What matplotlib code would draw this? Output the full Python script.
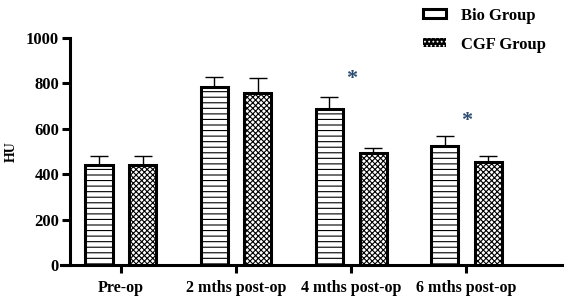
import matplotlib.pyplot as plt
from matplotlib.patches import Patch
import numpy as np

plt.rcParams['font.family'] = ['Liberation Serif', 'DejaVu Serif']
plt.rcParams['font.weight'] = 'bold'
plt.rcParams['hatch.linewidth'] = 0.8

# Data
groups = ["Pre-op", "2 mths post-op", "4 mths post-op", "6 mths post-op"]
bio_mean = [440, 782, 688, 524]
bio_err = [38, 48, 50, 45]
cgf_mean = [440, 758, 494, 454]
cgf_err = [38, 66, 22, 26]
star_groups = [2, 3]
star_heights = [818, 634]

fig = plt.figure(figsize=(5.65, 3.0), dpi=100)
ax = fig.add_axes([61 / 565, 35 / 300, (562 - 61) / 565, 227 / 300])

x = np.arange(len(groups))
off = 0.19
w = 0.235
ax.bar(x - off, bio_mean, w, color='white', edgecolor='black', linewidth=2.2,
       hatch='---', zorder=3)
ax.bar(x + off, cgf_mean, w, color='white', edgecolor='black', linewidth=2.2,
       hatch='xxxxxx', zorder=3)
ax.errorbar(x - off, bio_mean, yerr=[np.zeros(4), bio_err], fmt='none',
            ecolor='black', elinewidth=1.0, capsize=6.5, capthick=1.0, zorder=2)
ax.errorbar(x + off, cgf_mean, yerr=[np.zeros(4), cgf_err], fmt='none',
            ecolor='black', elinewidth=1.0, capsize=6.5, capthick=1.0, zorder=2)

for g, h in zip(star_groups, star_heights):
    ax.text(g, h, '*', ha='center', va='center', fontsize=16,
            color='#2b4a6f', fontweight='bold')

ax.set_xlim(-0.52, 3.83)
ax.set_ylim(0, 1000)
ax.set_yticks([0, 200, 400, 600, 800, 1000])
ax.set_xticks(x)
ax.set_xticklabels(groups)
ax.tick_params(axis='both', width=2.2, length=6)
ax.tick_params(axis='x', labelsize=11.5, pad=5)
ax.tick_params(axis='y', labelsize=12, pad=2)
ax.spines['top'].set_visible(False)
ax.spines['right'].set_visible(False)
ax.spines['left'].set_linewidth(2.2)
ax.spines['bottom'].set_linewidth(2.2)
ax.spines['left'].set_position(('data', -0.44))
ax.set_ylabel('HU', fontsize=10, fontweight='bold', labelpad=6)

handles = [Patch(facecolor='white', edgecolor='black', linewidth=2.2),
           Patch(facecolor='black', edgecolor='white', hatch='....', linewidth=0)]
fig.legend(handles, ['Bio Group', 'CGF Group'], loc='upper left',
           bbox_to_anchor=(408 / 565, 1.025), frameon=False, fontsize=12,
           handlelength=1.4, handleheight=0.45, handletextpad=0.9,
           labelspacing=0.8)

plt.savefig('out.png', dpi=100)
